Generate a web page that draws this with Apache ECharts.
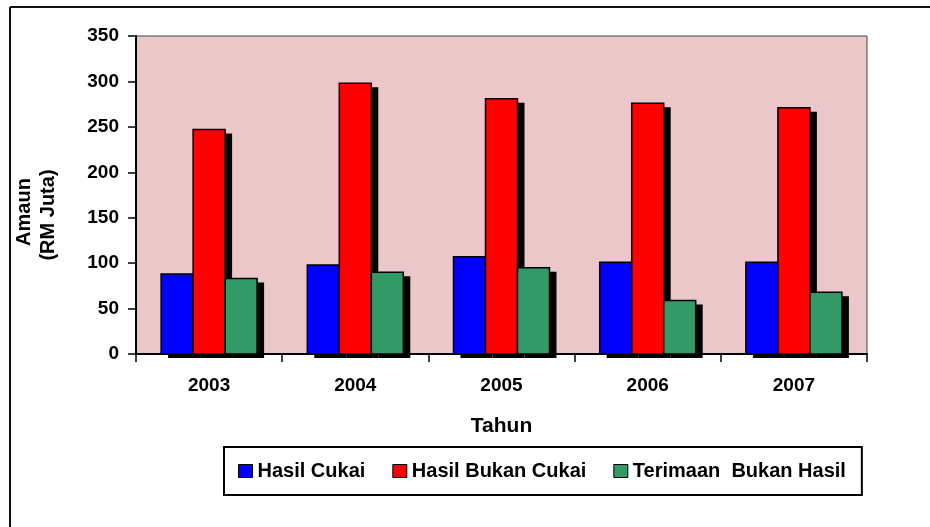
<!DOCTYPE html>
<html>
<head>
<meta charset="utf-8">
<script src="https://cdn.jsdelivr.net/npm/echarts@6/dist/echarts.min.js"></script>
<style>
html,body{margin:0;padding:0;background:#fff;}
#chart{width:930px;height:527px;}
</style>
</head>
<body>
<div id="chart"></div>
<script>
const categories = ['2003', '2004', '2005', '2006', '2007'];
const hasilCukai = [88, 98, 107, 101, 101];
const hasilBukanCukai = [247, 298, 281, 276, 271];
const terimaanBukanHasil = [83, 90, 95, 59, 68];
const seriesNames = ['Hasil Cukai', 'Hasil Bukan Cukai', 'Terimaan  Bukan Hasil'];
const yTicks = { min: 0, max: 350, interval: 50 };

const FONT = '"Liberation Sans", Arial, sans-serif';
const BAR_W = 32;
const chart = echarts.init(document.getElementById('chart'), null, { renderer: 'canvas' });

// Bars drawn with the library's scales (api.coord); each bar gets a flat black drop shadow
function barSeries(name, values, color, slot, count) {
  return {
    name: name,
    type: 'custom',
    itemStyle: { color: color },
    encode: { x: 0, y: 1 },
    data: categories.map(function (c, i) { return [c, values[i]]; }),
    renderItem: function (params, api) {
      const base = api.coord([api.value(0), 0]);
      const top = api.coord([api.value(0), api.value(1)]);
      const x = base[0] + (slot - count / 2) * BAR_W;
      const h = base[1] - top[1];
      return {
        type: 'group',
        children: [
          { type: 'rect', shape: { x: x + 7, y: top[1] + 4, width: BAR_W, height: h },
            style: { fill: '#000' } },
          { type: 'rect', shape: { x: x, y: top[1], width: BAR_W, height: h },
            style: { fill: color, stroke: '#000', lineWidth: 1.5 } }
        ]
      };
    }
  };
}

chart.setOption({
  animation: false,
  backgroundColor: '#fff',
  textStyle: { fontFamily: FONT },
  grid: {
    left: 136, top: 36, width: 731, height: 318,
    show: true, backgroundColor: '#EBC7CA', borderColor: '#444', borderWidth: 1
  },
  legend: {
    left: 224, top: 447,
    orient: 'horizontal',
    padding: [14, 16, 14, 14],
    itemGap: 27,
    itemWidth: 14, itemHeight: 13,
    icon: 'rect',
    borderColor: '#000', borderWidth: 2,
    textStyle: { fontFamily: FONT, fontWeight: 'bold', fontSize: 20, color: '#000' },
    itemStyle: { borderColor: '#000', borderWidth: 1 },
    data: seriesNames
  },
  xAxis: {
    type: 'category',
    data: categories,
    boundaryGap: true,
    name: 'Tahun',
    nameLocation: 'middle',
    nameGap: 62,
    nameTextStyle: { fontFamily: FONT, fontWeight: 'bold', fontSize: 21, color: '#000' },
    axisLine: { lineStyle: { color: '#000', width: 2 } },
    axisTick: { show: true, length: 8, lineStyle: { color: '#000', width: 1.5 } },
    axisLabel: { fontFamily: FONT, fontWeight: 'bold', fontSize: 19, color: '#000', margin: 22 },
    splitLine: { show: false }
  },
  yAxis: {
    type: 'value',
    min: yTicks.min, max: yTicks.max, interval: yTicks.interval,
    axisLine: { show: true, lineStyle: { color: '#000', width: 2 } },
    axisTick: { show: true, length: 8, lineStyle: { color: '#000', width: 1.5 } },
    axisLabel: { fontFamily: FONT, fontWeight: 'bold', fontSize: 19, color: '#000', margin: 17 },
    splitLine: { show: false }
  },
  graphic: [
    { type: 'line', shape: { x1: 10, y1: 7, x2: 930, y2: 7 }, style: { stroke: '#111', lineWidth: 2 } },
    { type: 'line', shape: { x1: 10, y1: 7, x2: 10, y2: 527 }, style: { stroke: '#111', lineWidth: 2 } },
    { type: 'text', x: 24, y: 212, rotation: Math.PI / 2,
      style: { text: 'Amaun', font: 'bold 20px ' + FONT, fill: '#000', align: 'center', verticalAlign: 'middle' } },
    { type: 'text', x: 48, y: 215, rotation: Math.PI / 2,
      style: { text: '(RM Juta)', font: 'bold 20px ' + FONT, fill: '#000', align: 'center', verticalAlign: 'middle' } }
  ],
  series: [
    barSeries(seriesNames[0], hasilCukai, '#0000FF', 0, 3),
    barSeries(seriesNames[1], hasilBukanCukai, '#FF0000', 1, 3),
    barSeries(seriesNames[2], terimaanBukanHasil, '#339966', 2, 3)
  ]
});
</script>
</body>
</html>
